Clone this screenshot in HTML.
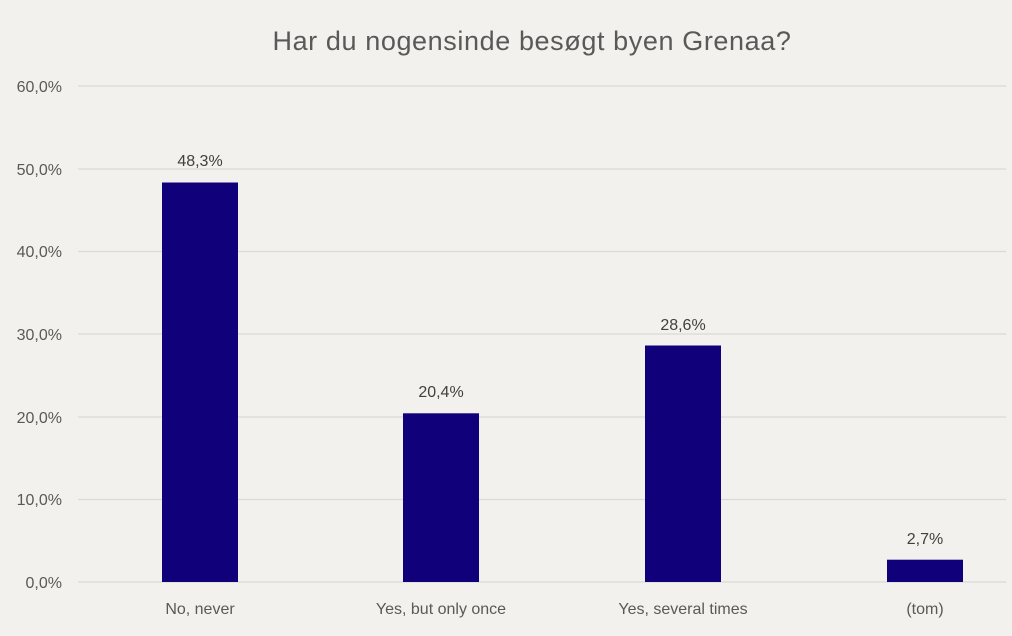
<!DOCTYPE html>
<html><head><meta charset="utf-8"><style>
html,body{margin:0;padding:0;background:#f2f1ed;}
svg{display:block;}
text{font-family:"Liberation Sans",sans-serif;}
</style></head><body>
<svg width="1012" height="636" xmlns="http://www.w3.org/2000/svg">
<rect width="1012" height="636" fill="#f2f1ed"/>
<text x="532" y="50" text-anchor="middle" font-size="27" letter-spacing="0.6" fill="#595959">Har du nogensinde besøgt byen Grenaa?</text>
<g stroke="#d9d9d9" stroke-width="1.3">
<line x1="78" x2="1006" y1="86" y2="86"/>
<line x1="78" x2="1006" y1="169" y2="169"/>
<line x1="78" x2="1006" y1="251.5" y2="251.5"/>
<line x1="78" x2="1006" y1="334" y2="334"/>
<line x1="78" x2="1006" y1="417" y2="417"/>
<line x1="78" x2="1006" y1="499.5" y2="499.5"/>
<line x1="78" x2="1006" y1="582" y2="582"/>
</g>
<g font-size="16" fill="#595959" text-anchor="end">
<text x="62" y="92">60,0%</text>
<text x="62" y="175">50,0%</text>
<text x="62" y="257">40,0%</text>
<text x="62" y="340">30,0%</text>
<text x="62" y="423">20,0%</text>
<text x="62" y="505">10,0%</text>
<text x="62" y="588">0,0%</text>
</g>
<g fill="#10007a">
<rect x="162" y="182.5" width="76" height="399.5"/>
<rect x="403" y="413.3" width="76" height="168.7"/>
<rect x="645" y="345.5" width="76" height="236.5"/>
<rect x="887" y="559.7" width="76" height="22.3"/>
</g>
<g font-size="16" fill="#404040" text-anchor="middle">
<text x="200" y="166">48,3%</text>
<text x="441" y="397">20,4%</text>
<text x="683" y="330">28,6%</text>
<text x="925" y="544">2,7%</text>
</g>
<g font-size="16" fill="#595959" text-anchor="middle">
<text x="200" y="614">No, never</text>
<text x="441" y="614">Yes, but only once</text>
<text x="683" y="614">Yes, several times</text>
<text x="925" y="614">(tom)</text>
</g>
</svg>
</body></html>
